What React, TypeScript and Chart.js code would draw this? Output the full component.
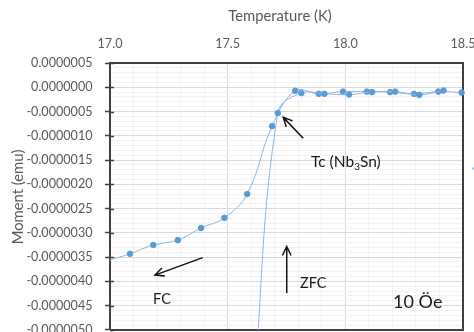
import React, { useEffect, useRef } from 'react';
import { Chart, registerables } from 'chart.js';

Chart.register(...registerables);

// ---- Data ----
const fcTemps = [16.985, 17.085, 17.184, 17.288, 17.387, 17.486, 17.583, 17.689, 17.787, 17.887, 17.99, 18.091, 18.19, 18.292, 18.395, 18.494];
const fcMoments = [-3.58e-6, -3.43e-6, -3.25e-6, -3.15e-6, -2.9e-6, -2.69e-6, -2.2e-6, -8.0e-7, -7.4e-8, -1.36e-7, -8.9e-8, -8.9e-8, -1.0e-7, -1.36e-7, -8.9e-8, -1.1e-7];
const zfcTemps = [17.61, 17.713, 17.813, 17.911, 18.016, 18.113, 18.212, 18.314, 18.417];
const zfcMoments = [-6.3e-6, -5.3e-7, -1.2e-7, -1.36e-7, -1.5e-7, -1.0e-7, -8.9e-8, -1.57e-7, -6.8e-8];

const xMin = 17.0;
const xMax = 18.5;
const xMajorStep = 0.5;
const xMinorStep = 0.1;
const yMin = -0.000005;
const yMax = 0.0000005;
const yMajorStep = 0.0000005;
const yMinorStep = 0.0000001;

const xTitle = 'Temperature (K)';
const yTitle = 'Moment (emu)';

// annotations in data coordinates
const tcArrow = { from: [17.821, -1.05e-6], to: [17.736, -6.2e-7] };
const tcLabel = { at: [17.854, -1.53e-6], parts: ['Tc (Nb', '3', 'Sn)'] };
const zfcArrow = { from: [17.751, -4.24e-6], to: [17.751, -3.28e-6] };
const zfcLabel = { at: [17.807, -4.03e-6], text: 'ZFC' };
const fcArrow = { from: [17.394, -3.51e-6], to: [17.191, -3.87e-6] };
const fcLabel = { at: [17.183, -4.37e-6], text: 'FC' };
const fieldLabel = { at: [18.203, -4.42e-6], text: '10 Öe' };

const FONT = 'Lato, "Open Sans", sans-serif';
const LINE_COLOR = '#8db6e3';
const MARK_COLOR = '#5b9bd5';

const isMultiple = (v: number, step: number) => Math.abs(v / step - Math.round(v / step)) < 1e-6;

function drawArrow(ctx: CanvasRenderingContext2D, x1: number, y1: number, x2: number, y2: number) {
  const ang = Math.atan2(y2 - y1, x2 - x1);
  const head = 10;
  const spread = 0.45;
  ctx.beginPath();
  ctx.moveTo(x1, y1);
  ctx.lineTo(x2, y2);
  ctx.moveTo(x2 - head * Math.cos(ang - spread), y2 - head * Math.sin(ang - spread));
  ctx.lineTo(x2, y2);
  ctx.lineTo(x2 - head * Math.cos(ang + spread), y2 - head * Math.sin(ang + spread));
  ctx.stroke();
}

const extrasPlugin = {
  id: 'extras',
  beforeDatasetsDraw(chart: any) {
    const { ctx, chartArea: a } = chart;
    ctx.save();
    ctx.strokeStyle = '#404040';
    ctx.lineWidth = 2;
    ctx.beginPath();
    ctx.moveTo(a.right, a.top);
    ctx.lineTo(a.right, a.bottom);
    ctx.lineTo(a.left, a.bottom);
    ctx.stroke();
    // inner half of cross tick marks on y axis
    const y = chart.scales.y;
    ctx.lineWidth = 1.5;
    y.ticks.forEach((t: any) => {
      if (isMultiple(t.value, yMajorStep)) {
        const py = Math.round(y.getPixelForValue(t.value)) + 0.5;
        ctx.beginPath();
        ctx.moveTo(a.left, py);
        ctx.lineTo(a.left + 4, py);
        ctx.stroke();
      }
    });
    ctx.restore();
  },
  afterDraw(chart: any) {
    const { ctx } = chart;
    const x = chart.scales.x;
    const y = chart.scales.y;
    const px = (v: number) => x.getPixelForValue(v);
    const py = (v: number) => y.getPixelForValue(v);
    ctx.save();
    // axis titles
    ctx.fillStyle = '#595959';
    ctx.font = `14.8px ${FONT}`;
    ctx.textAlign = 'center';
    ctx.textBaseline = 'middle';
    ctx.fillText(xTitle, 280, 16);
    ctx.save();
    ctx.translate(18, 197);
    ctx.rotate(-Math.PI / 2);
    ctx.fillText(yTitle, 0, 0);
    ctx.restore();

    // arrows
    ctx.strokeStyle = '#111';
    ctx.lineWidth = 1.5;
    drawArrow(ctx, px(tcArrow.from[0]), py(tcArrow.from[1]), px(tcArrow.to[0]), py(tcArrow.to[1]));
    drawArrow(ctx, px(zfcArrow.from[0]), py(zfcArrow.from[1]), px(zfcArrow.to[0]), py(zfcArrow.to[1]));
    drawArrow(ctx, px(fcArrow.from[0]), py(fcArrow.from[1]), px(fcArrow.to[0]), py(fcArrow.to[1]));

    // labels
    ctx.fillStyle = '#1a1a1a';
    ctx.textAlign = 'left';
    ctx.textBaseline = 'middle';
    ctx.font = `15.5px ${FONT}`;
    let tx = px(tcLabel.at[0]);
    const ty = py(tcLabel.at[1]);
    ctx.fillText(tcLabel.parts[0], tx, ty);
    tx += ctx.measureText(tcLabel.parts[0]).width;
    ctx.font = `10px ${FONT}`;
    ctx.fillText(tcLabel.parts[1], tx, ty + 5);
    tx += ctx.measureText(tcLabel.parts[1]).width;
    ctx.font = `15.5px ${FONT}`;
    ctx.fillText(tcLabel.parts[2], tx, ty);

    ctx.font = `14.5px ${FONT}`;
    ctx.fillText(zfcLabel.text, px(zfcLabel.at[0]), py(zfcLabel.at[1]));
    ctx.fillText(fcLabel.text, px(fcLabel.at[0]), py(fcLabel.at[1]));
    ctx.font = `18px ${FONT}`;
    ctx.fillText(fieldLabel.text, px(fieldLabel.at[0]), py(fieldLabel.at[1]));

    // clipped legend remnant at right edge
    ctx.fillStyle = '#9dc3e6';
    ctx.fillRect(472, 167.5, 3, 2);
    ctx.restore();
  },
};

export default function App() {
  const ref = useRef<HTMLCanvasElement | null>(null);

  useEffect(() => {
    if (!ref.current) return;
    const fcData = fcTemps.map((t, i) => ({ x: t, y: fcMoments[i] }));
    const zfcData = zfcTemps.map((t, i) => ({ x: t, y: zfcMoments[i] }));
    const common = {
      showLine: true,
      borderColor: LINE_COLOR,
      borderWidth: 1,
      backgroundColor: MARK_COLOR,
      pointBackgroundColor: MARK_COLOR,
      pointBorderColor: MARK_COLOR,
      pointRadius: 2.8,
      pointBorderWidth: 1,
      tension: 0.4,
      clip: { left: 0, top: 6, right: 6, bottom: 0 },
    };
    const chart = new Chart(ref.current, {
      type: 'scatter',
      data: {
        datasets: [
          { label: 'ZFC', data: zfcData, ...common },
          { label: 'FC', data: fcData, ...common },
        ],
      },
      options: {
        animation: false,
        responsive: false,
        devicePixelRatio: 1,
        layout: { padding: { left: 0, top: 0, right: 37, bottom: 19.5 } },
        plugins: { legend: { display: false }, tooltip: { enabled: false } },
        scales: {
          x: {
            type: 'linear',
            position: 'top',
            min: xMin,
            max: xMax,
            afterFit: (s: any) => { s.height = 63; },
            ticks: {
              stepSize: xMinorStep,
              autoSkip: false,
              maxRotation: 0,
              padding: 12,
              color: '#595959',
              font: { family: FONT, size: 12.6 },
              callback: (v: any) => (isMultiple(Number(v), xMajorStep) ? Number(v).toFixed(1) : ''),
            },
            grid: {
              drawTicks: false,
              color: (c: any) => (c.tick && isMultiple(c.tick.value, xMajorStep) ? '#d9d9d9' : '#f2f2f2'),
              lineWidth: 1,
            },
            border: { display: true, color: '#404040', width: 2 },
          },
          y: {
            type: 'linear',
            min: yMin,
            max: yMax,
            afterFit: (s: any) => { s.width = 110; },
            ticks: {
              stepSize: yMinorStep,
              autoSkip: false,
              padding: 12.5,
              color: '#595959',
              font: { family: FONT, size: 12.6 },
              callback: (v: any) => {
                const n = Number(v);
                if (!isMultiple(n, yMajorStep)) return '';
                const r = Math.round(n * 1e7) / 1e7;
                return (r === 0 ? 0 : r).toFixed(7);
              },
            },
            grid: {
              drawTicks: true,
              tickLength: 5,
              tickWidth: 1.5,
              color: (c: any) => (c.tick && isMultiple(c.tick.value, yMajorStep) ? '#d9d9d9' : '#f2f2f2'),
              tickColor: (c: any) => (c.tick && isMultiple(c.tick.value, yMajorStep) ? '#404040' : 'rgba(0,0,0,0)'),
              lineWidth: 1,
            },
            border: { display: true, color: '#404040', width: 2 },
          },
        },
      },
      plugins: [extrasPlugin],
    } as any);
    return () => chart.destroy();
  }, []);

  return (
    <div style={{ position: 'fixed', left: 0, top: 0, width: 474, height: 332, overflow: 'hidden', background: '#fff' }}>
      <canvas ref={ref} width={500} height={350} style={{ display: 'block', width: 500, height: 350 }} />
    </div>
  );
}
